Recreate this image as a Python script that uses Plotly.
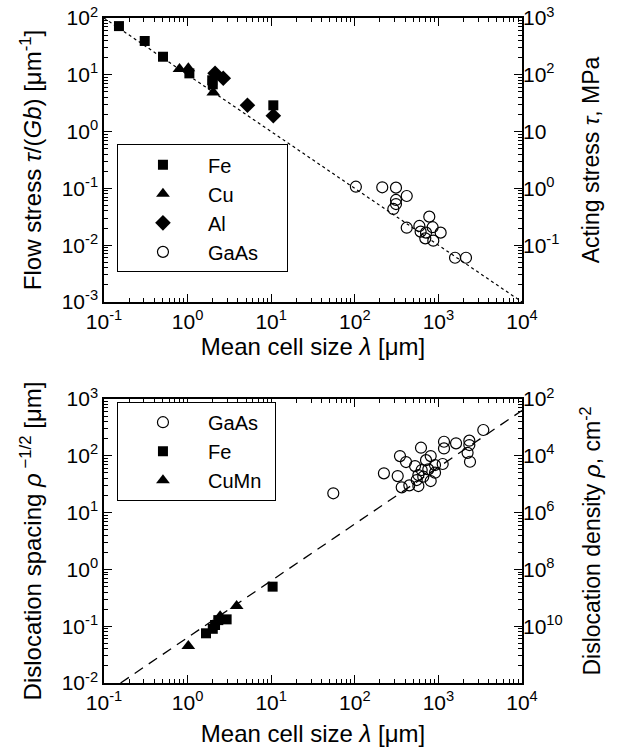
import plotly.graph_objects as go

# ---------------- data: top panel (flow stress vs cell size) ----------------
fe_top_x = [0.151, 0.307, 0.508, 1.05, 1.97, 2.0, 10.6]
fe_top_y = [72, 39.4, 20.8, 10.6, 8.0, 6.8, 2.9]
cu_top_x = [0.80, 1.02, 2.03]
cu_top_y = [12.6, 13.0, 4.9]
al_top_x = [2.13, 2.67, 5.2, 10.6]
al_top_y = [10.6, 8.7, 2.9, 1.9]
gaas_top_x = [103, 213, 311, 418, 311, 311, 289, 418, 592, 778, 853, 613, 711, 697, 869, 1064, 1581, 2138]
gaas_top_y = [0.107, 0.1045, 0.103, 0.0734, 0.0625, 0.053, 0.0434, 0.0203, 0.0218, 0.0318,
              0.0207, 0.0173, 0.0166, 0.0132, 0.012, 0.0166, 0.006, 0.006]
fit_top_x = [0.1, 1e4]
fit_top_y = [100, 1e-3]

# ---------------- data: bottom panel (dislocation spacing vs cell size) ----------------
gaas_bot_x = [55.3, 223, 326, 347, 410, 364, 449, 525, 619, 576, 576, 550, 631, 711, 809, 757,
              659, 809, 911, 911, 1125, 1167, 1167, 1626, 2344, 2344, 2234, 2388, 3444]
gaas_bot_y = [21.9, 49.2, 44, 99, 77.8, 27.9, 30.2, 66, 139, 45.9, 29.4, 37.5, 56.2, 84, 99, 57.8,
              42.9, 36, 68.9, 50.5, 71.8, 177, 135, 166, 185, 155, 113, 78.7, 285]
fe_bot_x = [1.66, 2.0, 2.13, 2.33, 2.93, 10.4]
fe_bot_y = [0.075, 0.09, 0.105, 0.128, 0.132, 0.497]
cumn_bot_x = [1.02, 2.45, 3.86]
cumn_bot_y = [0.0448, 0.15, 0.227]
fit_bot_x = [0.158, 1e4]
fit_bot_y = [0.01, 630]

# tick labels
x_tickvals = [1e-1, 1e0, 1e1, 1e2, 1e3, 1e4]
x_ticktext = ["10<sup>-1</sup>", "10<sup>0</sup>", "10<sup>1</sup>", "10<sup>2</sup>", "10<sup>3</sup>", "10<sup>4</sup>"]
ytop_tickvals = [1e-3, 1e-2, 1e-1, 1e0, 1e1, 1e2]
ytop_ticktext = ["10<sup>-3</sup>", "10<sup>-2</sup>", "10<sup>-1</sup>", "10<sup>0</sup>", "10<sup>1</sup>", "10<sup>2</sup>"]
ytopR_tickvals = [1e-1, 1e0, 1e1, 1e2, 1e3]
ytopR_ticktext = ["10<sup>-1</sup>", "10<sup>0</sup>", "10", "10<sup>2</sup>", "10<sup>3</sup>"]
ybot_tickvals = [1e-2, 1e-1, 1e0, 1e1, 1e2, 1e3]
ybot_ticktext = ["10<sup>-2</sup>", "10<sup>-1</sup>", "10<sup>0</sup>", "10<sup>1</sup>", "10<sup>2</sup>", "10<sup>3</sup>"]
ybotR_tickvals = [1e2, 1e4, 1e6, 1e8, 1e10]
ybotR_ticktext = ["10<sup>2</sup>", "10<sup>4</sup>", "10<sup>6</sup>", "10<sup>8</sup>", "10<sup>10</sup>"]

FONT = "Liberation Sans, Arial, sans-serif"
BLACK = "black"
PAD_TOP = "\u00a0" * 9
PAD_BOT = "\u00a0" * 2

fig = go.Figure()

# top panel
fig.add_trace(go.Scatter(x=fit_top_x, y=fit_top_y, mode="lines", line=dict(color=BLACK, width=1.2, dash="3px,3px"),
                         showlegend=False, xaxis="x", yaxis="y"))
fig.add_trace(go.Scatter(x=fe_top_x, y=fe_top_y, mode="markers", name="Fe" + PAD_TOP,
                         marker=dict(symbol="square", size=10, color=BLACK), xaxis="x", yaxis="y", legend="legend"))
fig.add_trace(go.Scatter(x=cu_top_x, y=cu_top_y, mode="markers", name="Cu",
                         marker=dict(symbol="triangle-up", size=12, color=BLACK), xaxis="x", yaxis="y", legend="legend"))
fig.add_trace(go.Scatter(x=al_top_x, y=al_top_y, mode="markers", name="Al",
                         marker=dict(symbol="diamond", size=12, color=BLACK), xaxis="x", yaxis="y", legend="legend"))
fig.add_trace(go.Scatter(x=gaas_top_x, y=gaas_top_y, mode="markers", name="GaAs",
                         marker=dict(symbol="circle-open", size=11, color=BLACK, line=dict(width=1.2)),
                         xaxis="x", yaxis="y", legend="legend"))
fig.add_trace(go.Scatter(x=[None], y=[None], mode="markers", showlegend=False, xaxis="x", yaxis="y3"))

# bottom panel
fig.add_trace(go.Scatter(x=fit_bot_x, y=fit_bot_y, mode="lines", line=dict(color=BLACK, width=1.3, dash="10px,7px"),
                         showlegend=False, xaxis="x2", yaxis="y2"))
fig.add_trace(go.Scatter(x=gaas_bot_x, y=gaas_bot_y, mode="markers", name="GaAs" + PAD_BOT,
                         marker=dict(symbol="circle-open", size=11, color=BLACK, line=dict(width=1.2)),
                         xaxis="x2", yaxis="y2", legend="legend2"))
fig.add_trace(go.Scatter(x=fe_bot_x, y=fe_bot_y, mode="markers", name="Fe",
                         marker=dict(symbol="square", size=10, color=BLACK), xaxis="x2", yaxis="y2", legend="legend2"))
fig.add_trace(go.Scatter(x=cumn_bot_x, y=cumn_bot_y, mode="markers", name="CuMn",
                         marker=dict(symbol="triangle-up", size=12, color=BLACK), xaxis="x2", yaxis="y2", legend="legend2"))
fig.add_trace(go.Scatter(x=[None], y=[None], mode="markers", showlegend=False, xaxis="x2", yaxis="y4"))

minor_x = [m * 10 ** e for e in range(-1, 4) for m in range(2, 10)]
minor_ytop = [m * 10 ** e for e in range(-3, 2) for m in range(2, 10)]
minor_ybot = [m * 10 ** e for e in range(-2, 3) for m in range(2, 10)]

tickfont = dict(family=FONT, size=21, color=BLACK)
xtitlefont = dict(family=FONT, size=24, color=BLACK)
ltitlefont = dict(family=FONT, size=24, color=BLACK)
rtitlefont = dict(family=FONT, size=23, color=BLACK)
legfont = dict(family=FONT, size=20, color=BLACK)

def xaxis(domain_anchor, standoff):
    return dict(type="log", range=[-1, 4], tickvals=x_tickvals, ticktext=x_ticktext,
                ticks="inside", ticklen=8, tickwidth=1.2, tickcolor=BLACK,
                minor=dict(ticks="inside", ticklen=4, tickvals=minor_x, tickcolor=BLACK, showgrid=False),
                showline=True, linecolor=BLACK, linewidth=1.5, mirror="ticks",
                showgrid=False, zeroline=False, tickfont=tickfont, anchor=domain_anchor, automargin=False,
                title=dict(text="Mean cell size <i>λ</i> [μm]", font=xtitlefont, standoff=standoff))

fig.update_layout(
    width=619, height=753,
    margin=dict(l=104, r=97, t=18, b=70),
    paper_bgcolor="white", plot_bgcolor="white",
    font=dict(family=FONT, color=BLACK),
    xaxis=xaxis("y", 1),
    xaxis2=xaxis("y2", 12),
    yaxis=dict(type="log", range=[-3, 2], domain=[0.573, 1.0], tickvals=ytop_tickvals, ticktext=ytop_ticktext,
               ticks="inside", ticklen=8, tickwidth=1.2, tickcolor=BLACK,
               minor=dict(ticks="inside", ticklen=4, tickvals=minor_ytop, tickcolor=BLACK, showgrid=False),
               showline=True, linecolor=BLACK, linewidth=1.5, mirror="ticks",
               showgrid=False, zeroline=False, tickfont=tickfont, automargin=False,
               title=dict(text="Flow stress <i>τ</i>/(<i>Gb</i>) [μm<sup>-1</sup>]", font=ltitlefont, standoff=13)),
    yaxis3=dict(type="log", range=[-2, 3], overlaying="y", side="right", anchor="x",
                tickvals=ytopR_tickvals, ticktext=ytopR_ticktext, ticks="", showgrid=False, zeroline=False,
                showline=False, tickfont=tickfont, automargin=False,
                title=dict(text="Acting stress <i>τ</i>, MPa", font=rtitlefont, standoff=24)),
    yaxis2=dict(type="log", range=[-2, 3], domain=[0.0, 0.427], tickvals=ybot_tickvals, ticktext=ybot_ticktext,
                ticks="inside", ticklen=8, tickwidth=1.2, tickcolor=BLACK,
                minor=dict(ticks="inside", ticklen=4, tickvals=minor_ybot, tickcolor=BLACK, showgrid=False),
                showline=True, linecolor=BLACK, linewidth=1.5, mirror="ticks",
                showgrid=False, zeroline=False, tickfont=tickfont, anchor="x2", automargin=False,
                title=dict(text="Dislocation spacing <i>ρ</i><sup> −1/2</sup> [μm]", font=ltitlefont, standoff=13)),
    yaxis4=dict(type="log", range=[12, 2], overlaying="y2", side="right", anchor="x2",
                tickvals=ybotR_tickvals, ticktext=ybotR_ticktext, ticks="", showgrid=False, zeroline=False,
                showline=False, tickfont=tickfont, automargin=False,
                title=dict(text="Dislocation density <i>ρ</i>, cm<sup>-2</sup>", font=rtitlefont, standoff=22)),
    legend=dict(x=0.031, y=0.81, xanchor="left", yanchor="top", bordercolor=BLACK, borderwidth=1,
                bgcolor="white", font=legfont, tracegroupgap=0, itemwidth=80),
    legend2=dict(x=0.031, y=0.423, xanchor="left", yanchor="top", bordercolor=BLACK, borderwidth=1,
                 bgcolor="white", font=legfont, tracegroupgap=0, itemwidth=80),
)

fig.write_html("out.html")
